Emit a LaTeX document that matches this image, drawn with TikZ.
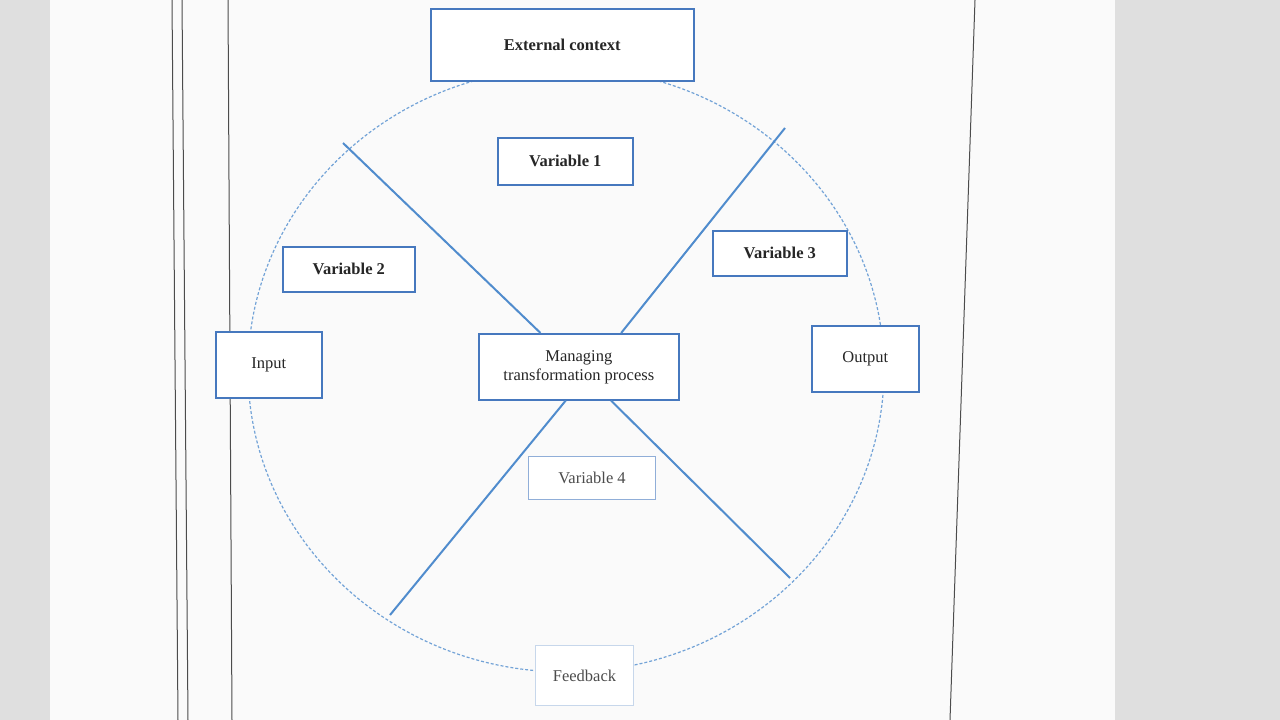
\documentclass[tikz,border=0pt]{standalone}
\usepackage{fontspec}
\setmainfont{Liberation Serif}
\usetikzlibrary{calc}
\definecolor{bx}{RGB}{70,120,190}
\definecolor{ln}{RGB}{80,140,205}
\begin{document}
\begin{tikzpicture}[x=1pt,y=-1pt,
  box/.style={draw=bx,line width=1.6pt,fill=white,font=\bfseries\fontsize{16.5}{17}\selectfont,text=black!85,align=center,anchor=north west,inner sep=0pt},
  lbox/.style={box,draw=bx!60,line width=1pt,font=\fontsize{16.5}{17}\selectfont,text=black!70},
  spoke/.style={draw=ln,line width=2pt}]
\useasboundingbox (0,0) rectangle (1280,720);
\fill[gray!25] (0,0) rectangle (1280,720);
\fill[white!96!gray] (50,0) rectangle (1115,720);
\draw[black!70,line width=1pt] (172,0) -- (178,720) (182,0) -- (188,720) (228,0) -- (232,720) (975,0) -- (950,720);
\draw[ln!80,line width=1.2pt,densely dashed] (566,370) ellipse [x radius=318, y radius=302];
\node[box,minimum width=263,minimum height=72] (ext) at (430,8) {External context};
\node[box,minimum width=135,minimum height=47] (v1) at (497,137) {Variable 1};
\node[box,minimum width=132,minimum height=45] (v2) at (282,246) {Variable 2};
\node[box,minimum width=134,minimum height=45] (v3) at (712,230) {Variable 3};
\node[box,font=\fontsize{16.5}{17}\selectfont,minimum width=106,minimum height=66] (in) at (215,331) {Input};
\node[box,font=\fontsize{16.5}{19}\selectfont,minimum width=200,minimum height=66] (mgr) at (478,333) {Managing\\transformation process};
\node[box,font=\fontsize{16.5}{17}\selectfont,minimum width=107,minimum height=66] (out) at (811,325) {Output};
\node[lbox,minimum width=127,minimum height=43] (v4) at (528,456) {Variable 4};
\node[lbox,draw=bx!30,minimum width=98,minimum height=60] (fb) at (535,645) {Feedback};
\coordinate (a) at (343,143);
\coordinate (b) at (785,128);
\coordinate (c) at (390,615);
\coordinate (d) at (790,578);
\draw[spoke] (a) -- ($(mgr.north west)!0.31!(mgr.north east)$);
\draw[spoke] (b) -- ($(mgr.north west)!0.71!(mgr.north east)$);
\draw[spoke] (c) -- ($(mgr.south west)!0.435!(mgr.south east)$);
\draw[spoke] (d) -- ($(mgr.south west)!0.66!(mgr.south east)$);
\end{tikzpicture}
\end{document}
